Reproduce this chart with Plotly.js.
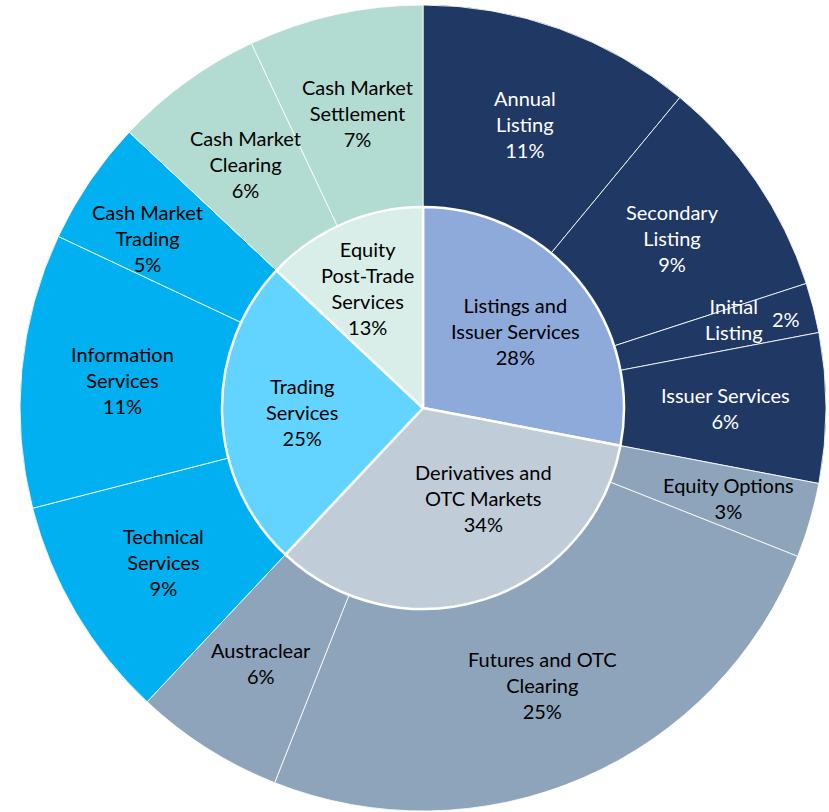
<!DOCTYPE html>
<html>
<head>
<meta charset="utf-8">
<script src="https://cdn.plot.ly/plotly-3.0.1.min.js"></script>
<style>html,body{margin:0;padding:0;background:#fff;}#chart{width:829px;height:812px;}</style>
</head>
<body>
<div id="chart"></div>
<script>
// ---- data ----
const innerLabels = ['Listings and<br>Issuer Services', 'Derivatives and<br>OTC Markets', 'Trading<br>Services', 'Equity<br>Post-Trade<br>Services'];
const innerValues = [28, 34, 25, 13];
const innerColors = ['#8EAADB', '#C0CDD9', '#62D4FF', '#D9EEE8'];

const outerLabels = ['Annual<br>Listing', 'Secondary<br>Listing', 'Initial<br>Listing', 'Issuer Services',
  'Equity Options', 'Futures and OTC<br>Clearing', 'Austraclear',
  'Technical<br>Services', 'Information<br>Services', 'Cash Market<br>Trading',
  'Cash Market<br>Clearing', 'Cash Market<br>Settlement'];
const outerValues = [11, 9, 2, 6, 3, 25, 6, 9, 11, 5, 6, 7];
const outerParent = [0, 0, 0, 0, 1, 1, 1, 2, 2, 2, 3, 3];
const groupOuterColors = ['#1F3864', '#8DA4BB', '#00B0F0', '#B2DCD1'];
const groupTextColors = ['#FFFFFF', '#000000', '#000000', '#000000'];

// ---- geometry / style (px) ----
const W = 829, H = 812;
const cx = 423, cy = 408, R = 403, Rin = 201;
const FONT = 'Lato, "Open Sans", sans-serif';
const FS = 20;
// small label placement nudges (pixels), like manual label drags
const innerNudge = { 1: [23, -25], 3: [-8, -9] };
const outerNudge = { 4: [15, 6], 9: [-26, 0] };

function dom(r) {
  return {
    x: [(cx - r) / W, (cx + r) / W],
    y: [(H - cy - r) / H, (H - cy + r) / H]
  };
}

const outerTrace = {
  type: 'pie', sort: false, direction: 'clockwise', rotation: 0,
  labels: outerLabels, values: outerValues,
  hole: Rin / R,
  marker: { colors: outerParent.map(p => groupOuterColors[p]), line: { color: 'rgba(255,255,255,0.85)', width: 1 } },
  textinfo: 'none', hoverinfo: 'label+value', showlegend: false,
  domain: dom(R)
};
const innerTrace = {
  type: 'pie', sort: false, direction: 'clockwise', rotation: 0,
  labels: innerLabels, values: innerValues,
  marker: { colors: innerColors, line: { color: '#FFFFFF', width: 2.5 } },
  textinfo: 'none', hoverinfo: 'label+value', showlegend: false,
  domain: dom(Rin)
};

function labelPositions(values, radius) {
  const total = values.reduce((a, b) => a + b, 0);
  let cum = 0;
  return values.map(v => {
    const mid = (cum + v / 2) / total * 2 * Math.PI;
    cum += v;
    const px = cx + radius * Math.sin(mid);
    const py = cy - radius * Math.cos(mid);
    return { x: px / W, y: 1 - py / H };
  });
}

function ann(pos, text, font, xs, ys) {
  return { xref: 'paper', yref: 'paper', x: pos.x, y: pos.y, xanchor: 'center', yanchor: 'middle',
    text: text, showarrow: false, font: font, align: 'center', xshift: xs || 0, yshift: ys || 0 };
}

const annotations = [];
const innerPos = labelPositions(innerValues, 0.6 * Rin);
const innerTotal = innerValues.reduce((a, b) => a + b, 0);
innerLabels.forEach((lab, i) => {
  const n = innerNudge[i] || [0, 0];
  annotations.push(ann(innerPos[i], lab + '<br>' + Math.round(innerValues[i] / innerTotal * 100) + '%',
    { family: FONT, size: FS, color: '#000000' }, n[0], -n[1]));
});
const outerPos = labelPositions(outerValues, (R + Rin) / 2);
const outerTotal = outerValues.reduce((a, b) => a + b, 0);
outerLabels.forEach((lab, i) => {
  const pct = Math.round(outerValues[i] / outerTotal * 100) + '%';
  const f = { family: FONT, size: FS, color: groupTextColors[outerParent[i]] };
  const n = outerNudge[i] || [0, 0];
  if (outerValues[i] < 3) {
    annotations.push(ann(outerPos[i], lab, f, 18, 14));
    annotations.push(ann(outerPos[i], pct, f, 70, 14));
  } else {
    annotations.push(ann(outerPos[i], lab + '<br>' + pct, f, n[0], -n[1]));
  }
});

const layout = {
  width: W, height: H,
  margin: { l: 0, r: 0, t: 0, b: 0, pad: 0 },
  paper_bgcolor: '#FFFFFF', plot_bgcolor: '#FFFFFF',
  showlegend: false,
  annotations: annotations
};

Plotly.newPlot('chart', [outerTrace, innerTrace], layout, { displayModeBar: false, staticPlot: true });
</script>
</body>
</html>
